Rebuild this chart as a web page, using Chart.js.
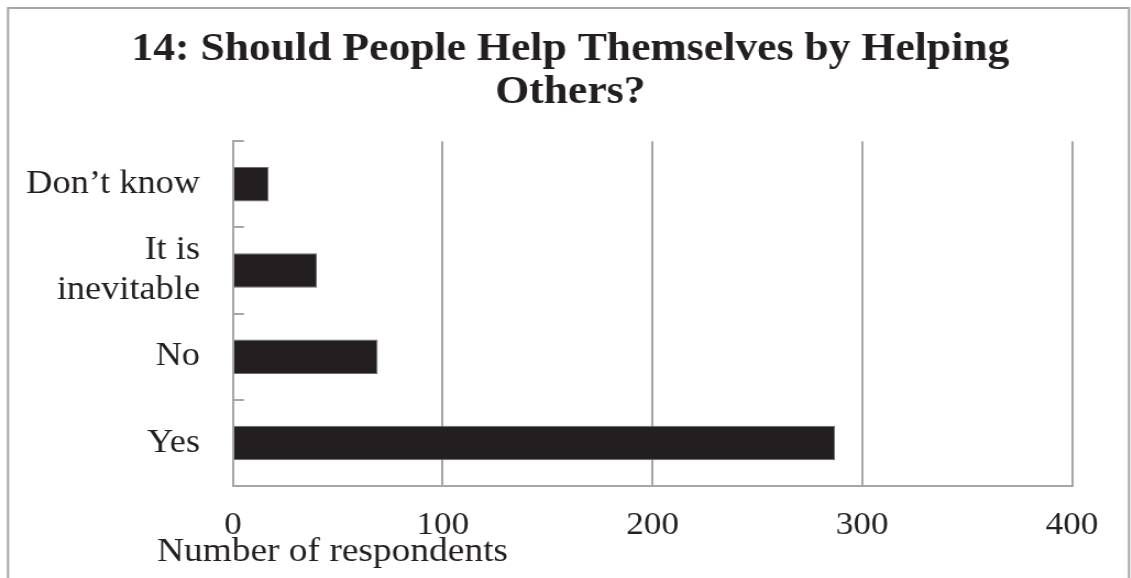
<!DOCTYPE html>
<html>
<head>
<meta charset="utf-8">
<script src="https://cdn.jsdelivr.net/npm/chart.js@4.4.1/dist/chart.umd.min.js"></script>
<style>
    html, body { margin: 0; padding: 0; background: #fff; overflow: hidden; }
    /* the reference is slightly stretched sideways */
    #wrap { width: 1028px; height: 578px; transform: scaleX(1.1); transform-origin: 0 0; }
</style>
</head>
<body>
<div id="wrap"><canvas id="chart" width="1028" height="578"></canvas></div>
<script>
const titleLines = ['14: Should People Help Themselves by Helping', 'Others?'];
const categories = ['Don\u2019t know', ['It is', 'inevitable'], 'No', 'Yes'];
const respondents = [17, 40, 69, 287];
const xTicks = [0, 100, 200, 300, 400];
const xTitle = 'Number of respondents';

const serif = "'Liberation Serif', 'Times New Roman', serif";
const ink = '#231f20';
const lineGray = '#a6a6a6';

// frame round the whole figure, inside tick marks on the category axis, axis title
const extras = {
    id: 'extras',
    afterDraw(chart) {
        const ctx = chart.ctx;
        const y = chart.scales.y;
        const area = chart.chartArea;
        ctx.save();
        ctx.strokeStyle = lineGray;
        ctx.lineWidth = 2;
        ctx.strokeRect(7.3, 8, 1019, 620);

        ctx.beginPath();
        for (let i = 0; i <= categories.length; i++) {
            const py = Math.round(y.getPixelForValue(i - 0.5));
            ctx.moveTo(area.left, py);
            ctx.lineTo(area.left + 10, py);
        }
        ctx.stroke();

        ctx.fillStyle = ink;
        ctx.font = '34px ' + serif;
        ctx.textAlign = 'left';
        ctx.textBaseline = 'alphabetic';
        ctx.fillText(xTitle, 142.7, 561);
        ctx.restore();
    }
};

new Chart(document.getElementById('chart'), {
    type: 'bar',
    data: {
        labels: categories,
        datasets: [{
            data: respondents,
            yAxisID: 'y',
            backgroundColor: ink,
            borderColor: '#6d6d6d',
            borderWidth: 1,
            barPercentage: 0.4,
            categoryPercentage: 1
        }]
    },
    options: {
        indexAxis: 'y',
        responsive: false,
        animation: false,
        devicePixelRatio: 1,
        layout: { padding: { left: 9, right: 0, top: 0, bottom: 0 } },
        plugins: {
            legend: { display: false },
            tooltip: { enabled: false },
            title: {
                display: true,
                text: titleLines,
                color: ink,
                font: { family: serif, size: 39.7, weight: 'bold', lineHeight: 1.08 },
                padding: { top: 28, bottom: 27.5 }
            }
        },
        scales: {
            x: {
                min: 0,
                max: 400,
                afterBuildTicks: s => { s.ticks = xTicks.map(v => ({ value: v })); },
                afterFit: s => { s.height = 92; },
                grid: { color: lineGray, lineWidth: 2, drawTicks: false },
                border: { display: true, color: lineGray, width: 2 },
                ticks: { color: ink, font: { family: serif, size: 32 }, padding: 20, maxRotation: 0 }
            },
            y: {
                afterFit: s => { s.width = 202.8; },
                grid: { display: false, drawTicks: false },
                border: { display: true, color: lineGray, width: 2 },
                ticks: { color: ink, font: { family: serif, size: 33 }, padding: 30 }
            },
            // empty right-hand strip so the plot stops short of the frame
            yRight: {
                type: 'linear',
                position: 'right',
                afterFit: s => { s.width = 53.5; },
                grid: { display: false, drawTicks: false },
                border: { display: false },
                ticks: { display: false }
            }
        }
    },
    plugins: [extras]
});
</script>
</body>
</html>
